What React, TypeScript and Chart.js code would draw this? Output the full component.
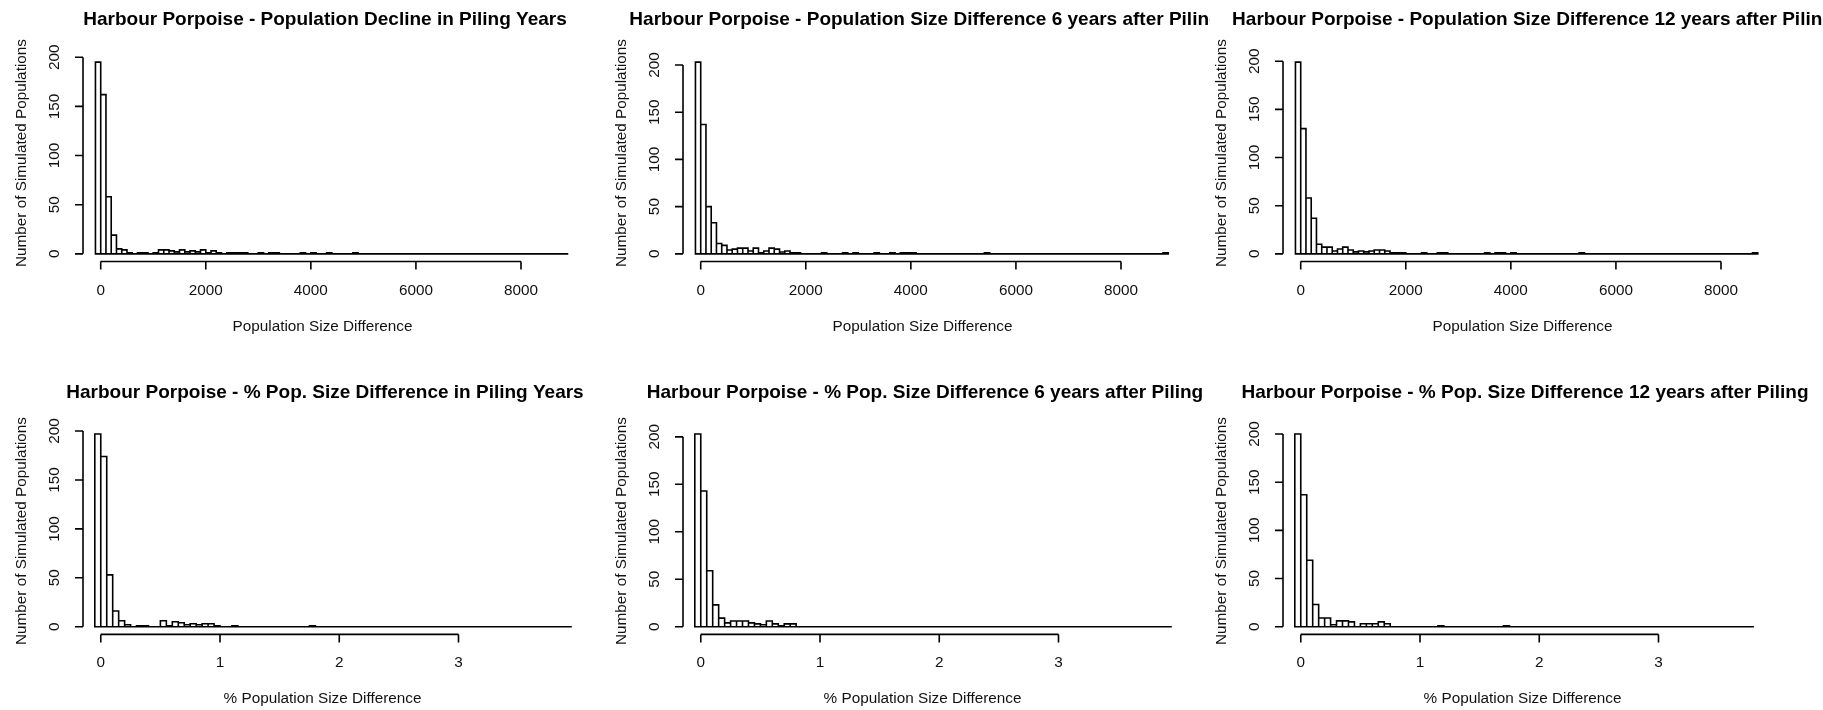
import { useEffect, useRef } from "react";
import { Chart, registerables } from "chart.js";

Chart.register(...registerables);

// Bin counts per histogram, first bin upward (trailing empty bins are padded with zeros)
const declinePilingCounts = [
  195, 162, 58, 19, 5, 4, 1, 0, 1, 1,
  0, 1, 4, 4, 3, 2, 4, 2, 3, 2,
  4, 1, 3, 1, 0, 1, 1, 1, 1, 0,
  0, 1, 0, 1, 1, 0, 0, 0, 0, 1,
  0, 1, 0, 0, 1, 0, 0, 0, 0, 1,
];
const diff6Counts = [
  203, 137, 50, 33, 11, 9, 4, 5, 6, 6,
  3, 6, 1, 3, 6, 5, 2, 3, 1, 1,
  0, 0, 0, 0, 1, 0, 0, 0, 1, 0,
  1, 0, 0, 0, 1, 0, 0, 1, 0, 1,
  1, 1, 0, 0, 0, 0, 0, 0, 0, 0,
  0, 0, 0, 0, 0, 1, 0, 0, 0, 0,
  0, 0, 0, 0, 0, 0, 0, 0, 0, 0,
  0, 0, 0, 0, 0, 0, 0, 0, 0, 0,
  0, 0, 0, 0, 0, 0, 0, 0, 0, 1,
];
const diff12Counts = [
  199, 130, 58, 37, 10, 7, 7, 3, 5, 7,
  4, 2, 3, 2, 3, 4, 4, 3, 1, 1,
  1, 0, 0, 0, 1, 0, 0, 1, 1, 0,
  0, 0, 0, 0, 0, 0, 1, 0, 1, 1,
  0, 1, 0, 0, 0, 0, 0, 0, 0, 0,
  0, 0, 0, 0, 1, 0, 0, 0, 0, 0,
  0, 0, 0, 0, 0, 0, 0, 0, 0, 0,
  0, 0, 0, 0, 0, 0, 0, 0, 0, 0,
  0, 0, 0, 0, 0, 0, 0, 1,
];
const pctPilingCounts = [
  197, 174, 53, 16, 6, 2, 0, 1, 1, 0,
  0, 6, 1, 5, 4, 2, 3, 2, 3, 3,
  1, 0, 0, 1, 0, 0, 0, 0, 0, 0,
  0, 0, 0, 0, 0, 0, 1,
];
const pct6Counts = [
  203, 143, 59, 23, 9, 4, 6, 6, 6, 4,
  3, 2, 6, 3, 1, 3, 3,
];
const pct12Counts = [
  200, 137, 69, 23, 9, 9, 2, 6, 6, 5,
  0, 3, 3, 3, 5, 3, 0, 0, 0, 0,
  0, 0, 0, 0, 1, 0, 0, 0, 0, 0,
  0, 0, 0, 0, 0, 1,
];

// Histogram breaks
const sizeBreakStart = -100;
const sizeBinWidth = 100;
const sizeBinTotals = [90, 90, 88];
const pctBreakStart = -0.05;
const pctBinWidth = 0.05;
const pctBinTotals = [80, 80, 77];

// Axis ranges and tick values
const sizeAxisRange = [-337, 9028];
const pctAxisRange = [-0.149, 3.977];
const sizeTicks = [0, 2000, 4000, 6000, 8000];
const pctTicks = [0, 1, 2, 3];
const countTicks = [0, 50, 100, 150, 200];

// Text
const panelTitles = [
  "Harbour Porpoise - Population Decline in Piling Years",
  "Harbour Porpoise - Population Size Difference 6 years after Piling",
  "Harbour Porpoise - Population Size Difference 12 years after Piling",
  "Harbour Porpoise - % Pop. Size Difference in Piling Years",
  "Harbour Porpoise - % Pop. Size Difference 6 years after Piling",
  "Harbour Porpoise - % Pop. Size Difference 12 years after Piling",
];
const sizeXLabel = "Population Size Difference";
const pctXLabel = "% Population Size Difference";
const countYLabel = "Number of Simulated Populations";

// Layout of the 2 x 3 grid
const colLefts = [0, 600, 1210];
const colWidths = [600, 610, 613];
const rowTops = [0, 373];
const rowHeights = [373, 337];
const rowPlotTop = [54.5, 53.3];
const rowPlotBottom = [261.5, 261.4];
const rowYLabelCenter = [153, 158];
const plotLeft = 83;
const plotRight = 575;

const INK = "#000";
const TEXT = "#111";
const LINE = 1.6;
const TICK = 8;
const FONT = '"Liberation Sans", Arial, Helvetica, sans-serif';
const REG = `15.3px ${FONT}`;
const BOLD = `bold 19px ${FONT}`;

type PanelSpec = {
  row: number;
  col: number;
  counts: number[];
  binStart: number;
  binWidth: number;
  binTotal: number;
  range: number[];
  ticks: number[];
  title: string;
  titleShift: number;
  xLabel: string;
};

const panels: PanelSpec[] = [
  { row: 0, col: 0, counts: declinePilingCounts, binStart: sizeBreakStart, binWidth: sizeBinWidth, binTotal: sizeBinTotals[0], range: sizeAxisRange, ticks: sizeTicks, title: panelTitles[0], titleShift: 0, xLabel: sizeXLabel },
  { row: 0, col: 1, counts: diff6Counts, binStart: sizeBreakStart, binWidth: sizeBinWidth, binTotal: sizeBinTotals[1], range: sizeAxisRange, ticks: sizeTicks, title: panelTitles[1], titleShift: 0, xLabel: sizeXLabel },
  { row: 0, col: 2, counts: diff12Counts, binStart: sizeBreakStart, binWidth: sizeBinWidth, binTotal: sizeBinTotals[2], range: sizeAxisRange, ticks: sizeTicks, title: panelTitles[2], titleShift: 8, xLabel: sizeXLabel },
  { row: 1, col: 0, counts: pctPilingCounts, binStart: pctBreakStart, binWidth: pctBinWidth, binTotal: pctBinTotals[0], range: pctAxisRange, ticks: pctTicks, title: panelTitles[3], titleShift: 0, xLabel: pctXLabel },
  { row: 1, col: 1, counts: pct6Counts, binStart: pctBreakStart, binWidth: pctBinWidth, binTotal: pctBinTotals[1], range: pctAxisRange, ticks: pctTicks, title: panelTitles[4], titleShift: 0, xLabel: pctXLabel },
  { row: 1, col: 2, counts: pct12Counts, binStart: pctBreakStart, binWidth: pctBinWidth, binTotal: pctBinTotals[2], range: pctAxisRange, ticks: pctTicks, title: panelTitles[5], titleShift: 0, xLabel: pctXLabel },
];

function binPoints(p: PanelSpec) {
  const pts: { x: number; y: number }[] = [];
  for (let i = 0; i < p.binTotal; i++) {
    pts.push({ x: p.binStart + p.binWidth * (i + 0.5), y: p.counts[i] ?? 0 });
  }
  return pts;
}

// Base-graphics style decoration: outlined bins, detached axes, rotated labels
function basePlotDecor(p: PanelSpec) {
  return {
    id: "basePlotDecor",
    afterDatasetsDraw(chart: any) {
      const ctx = chart.ctx as CanvasRenderingContext2D;
      const meta = chart.getDatasetMeta(0);
      ctx.save();
      ctx.strokeStyle = INK;
      ctx.lineWidth = LINE;
      ctx.beginPath();
      for (const el of meta.data) {
        const { x, y, base, width } = el.getProps(["x", "y", "base", "width"], true);
        ctx.rect(x - width / 2, y, width, base - y);
      }
      ctx.stroke();
      ctx.restore();
    },
    afterDraw(chart: any) {
      const ctx = chart.ctx as CanvasRenderingContext2D;
      const xs = chart.scales.x;
      const ys = chart.scales.y;
      const { left, bottom } = chart.chartArea;
      ctx.save();
      ctx.strokeStyle = INK;
      ctx.lineWidth = LINE;
      ctx.beginPath();
      const y0 = ys.getPixelForValue(countTicks[0]);
      const y1 = ys.getPixelForValue(countTicks[countTicks.length - 1]);
      ctx.moveTo(left, y0);
      ctx.lineTo(left, y1);
      for (const t of countTicks) {
        const py = ys.getPixelForValue(t);
        ctx.moveTo(left, py);
        ctx.lineTo(left - TICK, py);
      }
      const x0 = xs.getPixelForValue(p.ticks[0]);
      const x1 = xs.getPixelForValue(p.ticks[p.ticks.length - 1]);
      ctx.moveTo(x0, bottom);
      ctx.lineTo(x1, bottom);
      for (const t of p.ticks) {
        const px = xs.getPixelForValue(t);
        ctx.moveTo(px, bottom);
        ctx.lineTo(px, bottom + TICK);
      }
      ctx.stroke();

      ctx.fillStyle = TEXT;
      ctx.font = REG;
      ctx.textAlign = "center";
      ctx.textBaseline = "alphabetic";
      for (const t of p.ticks) {
        ctx.fillText(String(t), xs.getPixelForValue(t), bottom + 33);
      }
      ctx.fillText(p.xLabel, left + 239.5, bottom + 69);

      ctx.textBaseline = "middle";
      for (const t of countTicks) {
        ctx.save();
        ctx.translate(left - 28, ys.getPixelForValue(t));
        ctx.rotate(-Math.PI / 2);
        ctx.fillText(String(t), 0, 0);
        ctx.restore();
      }
      ctx.save();
      ctx.translate(left - 61.3, rowYLabelCenter[p.row]);
      ctx.rotate(-Math.PI / 2);
      ctx.fillText(countYLabel, 0, 0);
      ctx.restore();

      ctx.font = BOLD;
      ctx.fillStyle = INK;
      ctx.textBaseline = "alphabetic";
      ctx.fillText(p.title, left + 242 + p.titleShift, 25.3);
      ctx.restore();
    },
  };
}

function HistPanel({ p }: { p: PanelSpec }) {
  const ref = useRef<HTMLCanvasElement>(null);
  const w = colWidths[p.col];
  const h = rowHeights[p.row];
  const dx = 600 * p.col - colLefts[p.col];

  useEffect(() => {
    const peak = Math.max(...p.counts);
    const chart = new Chart(ref.current as HTMLCanvasElement, {
      type: "bar",
      data: {
        datasets: [
          {
            data: binPoints(p) as any,
            backgroundColor: "#ffffff",
            borderWidth: 0,
            barPercentage: 1,
            categoryPercentage: 1,
          },
        ],
      },
      options: {
        animation: false,
        responsive: false,
        maintainAspectRatio: false,
        devicePixelRatio: 1,
        events: [],
        layout: {
          padding: {
            left: plotLeft + dx,
            right: w - (plotRight + dx),
            top: rowPlotTop[p.row],
            bottom: h - rowPlotBottom[p.row],
          },
        },
        plugins: {
          legend: { display: false },
          title: { display: false },
          tooltip: { enabled: false },
        },
        scales: {
          x: {
            type: "linear",
            display: false,
            offset: false,
            min: p.range[0],
            max: p.range[1],
          },
          y: {
            type: "linear",
            display: false,
            min: -0.04 * peak,
            max: 1.04 * peak,
          },
        },
      },
      plugins: [basePlotDecor(p) as any],
    });
    return () => chart.destroy();
  }, []);

  return (
    <canvas
      ref={ref}
      width={w}
      height={h}
      style={{
        position: "absolute",
        left: colLefts[p.col],
        top: rowTops[p.row],
        width: w,
        height: h,
        display: "block",
      }}
    />
  );
}

export default function App() {
  return (
    <div
      style={{
        position: "fixed",
        left: 0,
        top: 0,
        width: 1823,
        height: 710,
        background: "#ffffff",
        overflow: "hidden",
      }}
    >
      {panels.map((p, i) => (
        <HistPanel key={i} p={p} />
      ))}
    </div>
  );
}
